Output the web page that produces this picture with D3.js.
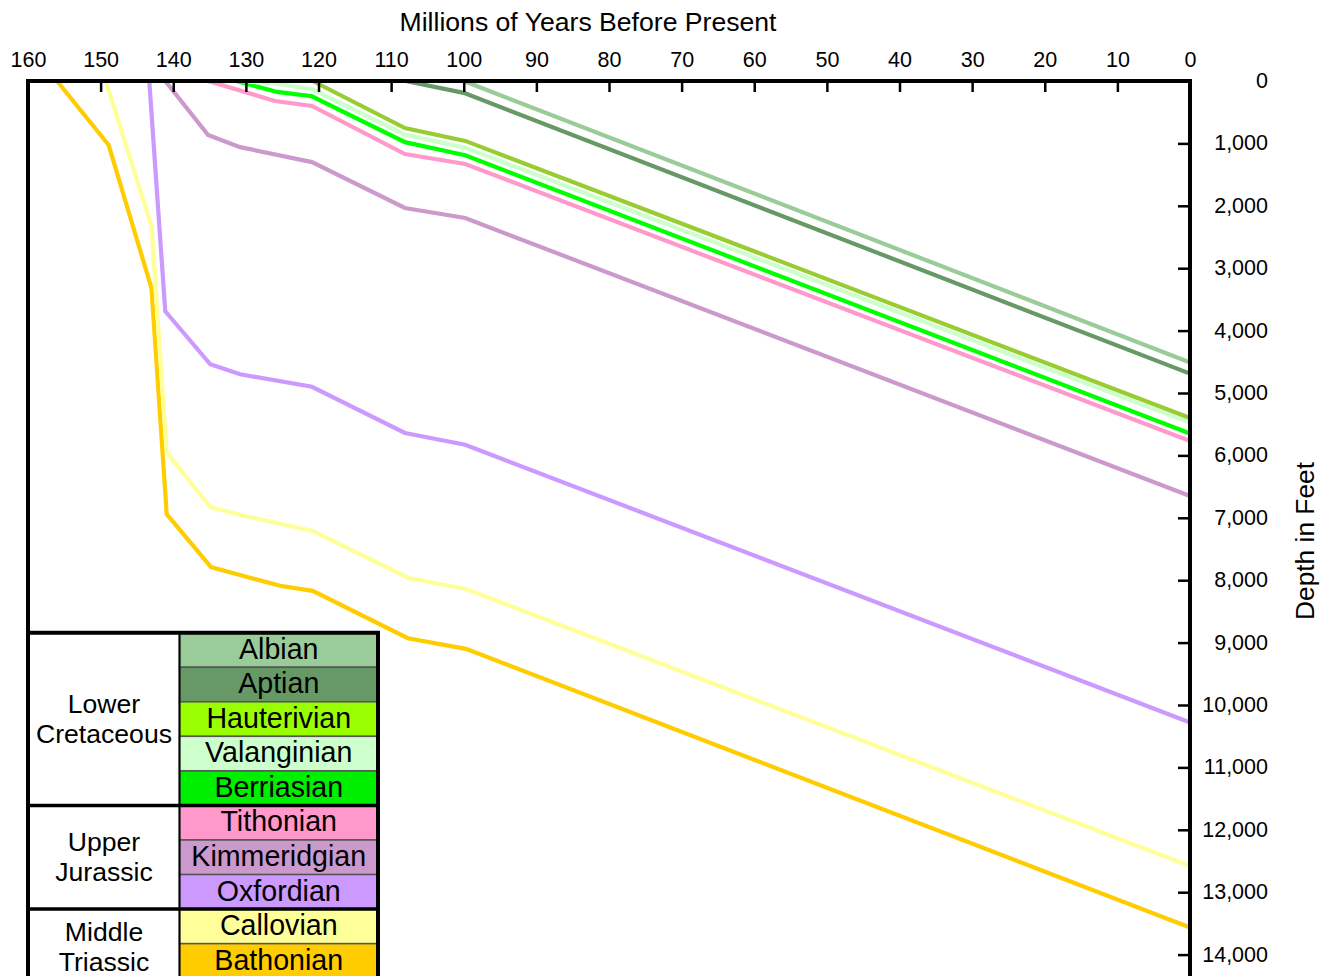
<!DOCTYPE html>
<html><head><meta charset="utf-8">
<script src="https://cdn.jsdelivr.net/npm/d3@7"></script>
<style>body{margin:0;background:#fff;} svg{display:block;font-family:"Liberation Sans",Arial,sans-serif;}</style>
</head><body>
<svg id="c" width="1339" height="976"></svg>
<script>
// ---- data ----
const stageNames = ["Albian","Aptian","Hauterivian","Valanginian","Berriasian","Tithonian","Kimmeridgian","Oxfordian","Callovian","Bathonian"];
const legendColors = ["#99cc99","#669966","#99ff00","#ccffcc","#00ee00","#ff99cc","#cc99cc","#cc99ff","#ffff99","#ffcc00"];
const lineColors = ["#99cc99","#669966","#99cc33","#ccffcc","#00ff00","#ff99cc","#cc99cc","#cc99ff","#ffff99","#ffcc00"];
const groupLabels = [["Lower","Cretaceous"],["Upper","Jurassic"],["Middle","Triassic"]];
const groupSizes = [5,3,2];
const xTicks = [160,150,140,130,120,110,100,90,80,70,60,50,40,30,20,10,0];
const yTicks = [0,1000,2000,3000,4000,5000,6000,7000,8000,9000,10000,11000,12000,13000,14000];

// [age (Ma), depth (ft)]
const albian = [[100,0],[0,4510]];
const aptian = [[108,0],[100,190],[0,4690]];
const hauterivian = [[120.8,0],[108.1,755],[99.8,960],[0,5400]];
const valanginian = [[131,0],[126,40],[120.9,130],[108.1,860],[99.8,1070],[0,5475]];
const berriasian = [[131.3,0],[125.7,175],[120.9,245],[108.1,980],[99.8,1190],[0,5650]];
const tithonian = [[135.2,0],[126,320],[120.9,400],[108.1,1170],[99.8,1330],[0,5770]];
const kimmeridgian = [[141.1,0],[135.2,865],[130.8,1060],[120.9,1300],[108.1,2035],[99.8,2195],[0,6650]];
const oxfordian = [[143.3,0],[141.1,3690],[134.9,4540],[130.8,4700],[120.9,4900],[108.1,5640],[99.8,5830],[0,10280]];
const callovian = [[149.3,0],[143,2320],[140.9,5950],[134.9,6830],[130.1,6970],[120.8,7210],[107.7,7960],[99.7,8140],[0,12580]];
const bathonian = [[156,0],[148.9,1025],[143,3320],[140.9,6940],[134.8,7790],[125.3,8090],[120.8,8170],[107.7,8930],[99.7,9100],[0,13565]];
const seriesList = [albian,aptian,hauterivian,valanginian,berriasian,tithonian,kimmeridgian,oxfordian,callovian,bathonian];

// ---- layout ----
const svg = d3.select("#c");
const pL = 28, pR = 1190, pT = 81;
const x = d3.scaleLinear().domain([160,0]).range([pL,pR]);
const y = d3.scaleLinear().domain([0,14000]).range([pT, pT + 14*62.4]);

// lines
const line = d3.line().x(d=>x(d[0])).y(d=>y(d[1]));
const gLines = svg.append("g");
for (let i = seriesList.length-1; i >= 0; i--) {
  gLines.append("path").attr("d", line(seriesList[i]))
    .attr("fill","none").attr("stroke", lineColors[i]).attr("stroke-width", 4.2);
}

// top axis
const xAxis = d3.axisTop(x).tickValues(xTicks).tickSize(-11).tickPadding(0).tickFormat(d3.format("d"));
const gx = svg.append("g").attr("transform",`translate(0,${pT})`).call(xAxis);
gx.select(".domain").remove();
gx.selectAll(".tick line").attr("stroke","#000").attr("stroke-width",2.5);
gx.selectAll(".tick text").attr("y",-14).attr("dy",0).attr("font-size","21.5px").attr("fill","#000");

// right axis
const yAxis = d3.axisRight(y).tickValues(yTicks).tickSize(-12).tickFormat(d3.format(","));
const gy = svg.append("g").attr("transform",`translate(${pR},0)`).call(yAxis);
gy.select(".domain").remove();
gy.selectAll(".tick line").attr("stroke","#000").attr("stroke-width",2.5);
gy.selectAll(".tick text").attr("x",78).attr("text-anchor","end").attr("dy","0.3em").attr("font-size","21.5px").attr("fill","#000");

// frame
svg.append("path").attr("d",`M${pL},980 L${pL},${pT} L${pR},${pT} L${pR},980`)
  .attr("fill","none").attr("stroke","#000").attr("stroke-width",4).attr("stroke-linejoin","miter");

// titles
svg.append("text").attr("x",588).attr("y",31).attr("text-anchor","middle").attr("font-size","26.6px").text("Millions of Years Before Present");
svg.append("text").attr("transform","translate(1314,541) rotate(-90)").attr("text-anchor","middle").attr("font-size","26.3px").text("Depth in Feet");

// legend
const legTop = 632.7, rowH = 34.55, legLeft = pL, legMid = 179.5, legRight = 378;
const yLeg = d3.scaleBand().domain(stageNames).range([legTop, legTop + rowH*stageNames.length]);
const gL = svg.append("g");
gL.append("rect").attr("x",legLeft).attr("y",legTop).attr("width",legRight-legLeft).attr("height",400).attr("fill","#fff");
stageNames.forEach((s,i)=>{
  gL.append("rect").attr("x",legMid).attr("y",yLeg(s)).attr("width",legRight-legMid).attr("height",yLeg.bandwidth())
    .attr("fill",legendColors[i]).attr("stroke","#555").attr("stroke-width",1.5);
  gL.append("text").attr("x",(legMid+legRight)/2).attr("y",yLeg(s)+26).attr("text-anchor","middle")
    .attr("font-size","28.6px").attr("fill","#000").text(s);
});
let acc = 0;
groupLabels.forEach((g,i)=>{
  const y0 = yLeg(stageNames[acc]);
  const h = groupSizes[i]*rowH;
  const cy = i < 2 ? y0 + h/2 : y0 + 2*rowH/2 + 3;
  gL.append("text").attr("x",104).attr("y",cy - 6).attr("text-anchor","middle").attr("font-size","26.6px").text(g[0]);
  gL.append("text").attr("x",104).attr("y",cy + 24).attr("text-anchor","middle").attr("font-size","26.6px").text(g[1]);
  if (i>0) gL.append("line").attr("x1",legLeft).attr("x2",legRight).attr("y1",y0).attr("y2",y0).attr("stroke","#000").attr("stroke-width",3.5);
  acc += groupSizes[i];
});
gL.append("line").attr("x1",legMid).attr("x2",legMid).attr("y1",legTop).attr("y2",980).attr("stroke","#000").attr("stroke-width",2);
gL.append("path").attr("d",`M${legLeft},980 L${legLeft},${legTop} L${legRight},${legTop} L${legRight},980`)
  .attr("fill","none").attr("stroke","#000").attr("stroke-width",4);
</script>
</body></html>
